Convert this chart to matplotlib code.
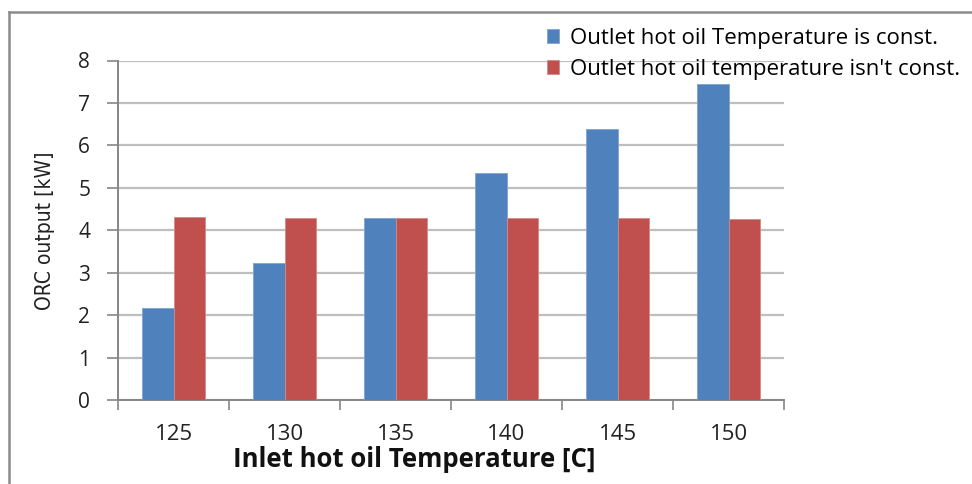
import matplotlib.pyplot as plt
from matplotlib.lines import Line2D
import numpy as np

# data
temps = ['125', '130', '135', '140', '145', '150']
const_out = [2.16, 3.22, 4.30, 5.35, 6.39, 7.45]
nonconst_out = [4.31, 4.30, 4.30, 4.28, 4.28, 4.26]
series_names = ['Outlet hot oil Temperature is const.',
                "Outlet hot oil temperature isn't const."]

blue = '#4F81BD'
red = '#C0504D'
axis_gray = '#868686'
grid_gray = '#BFBFBF'

fig = plt.figure(figsize=(9.72, 4.84), dpi=100)
ax = fig.add_axes([118 / 972, 1 - 400 / 484, 666 / 972, 339.5 / 484])

x = np.arange(len(temps))
w = 0.28
ax.bar(x - w / 2, const_out, w, color=blue, edgecolor='#7FA3D1', linewidth=0.6,
       label=series_names[0], zorder=3)
ax.bar(x + w / 2, nonconst_out, w, color=red, edgecolor='#D48A88', linewidth=0.6,
       label=series_names[1], zorder=3)

ax.set_xlim(-0.5, len(temps) - 0.5)
ax.set_ylim(0, 8)
ax.set_yticks(range(0, 9))
ax.yaxis.grid(True, color=grid_gray, linewidth=1.6, zorder=0)

ax.set_xticks(x)
ax.set_xticklabels(temps, family='Open Sans', fontsize=16, color='#222222')
ax.set_xticks(np.arange(-0.5, len(temps)), minor=True)
ax.tick_params(axis='x', which='major', length=0, pad=17)
ax.tick_params(axis='x', which='minor', length=7, width=1.2, color=axis_gray, direction='out')
ax.tick_params(axis='y', length=8, width=1.2, color=axis_gray, pad=12,
               labelsize=15, labelcolor='#222222')
for lbl in ax.get_yticklabels():
    lbl.set_family('Open Sans')

for s in ['top', 'right']:
    ax.spines[s].set_visible(False)
for s in ['left', 'bottom']:
    ax.spines[s].set_color(axis_gray)
    ax.spines[s].set_linewidth(1.4)

ax.set_xlabel('Inlet hot oil Temperature [C]', family='Open Sans', fontsize=18.5,
              fontweight='bold', color='#111111')
ax.xaxis.set_label_coords((414 - 118) / 666, -46 / 339.5)
ax.set_ylabel('ORC output [kW]', family='DejaVu Sans', fontstretch='condensed',
              fontsize=15, color='#222222')
ax.yaxis.set_label_coords(-(118 - 55) / 666, 0.5)

fig.legend(loc='upper left', bbox_to_anchor=(538 / 972, 1 - 19 / 484), frameon=False,
           prop={'family': 'Open Sans', 'size': 16}, handlelength=0.55,
           handleheight=0.55, handletextpad=0.5, labelspacing=0.45, borderaxespad=0)

# outer chart border (left and top only visible)
fig.add_artist(Line2D([9 / 972, 9 / 972], [0, 1 - 12 / 484], color='#8C8C8C', linewidth=1.8))
fig.add_artist(Line2D([9 / 972, 1], [1 - 12 / 484, 1 - 12 / 484], color='#8C8C8C', linewidth=1.8))

fig.savefig('out.png', dpi=100, facecolor='white')
